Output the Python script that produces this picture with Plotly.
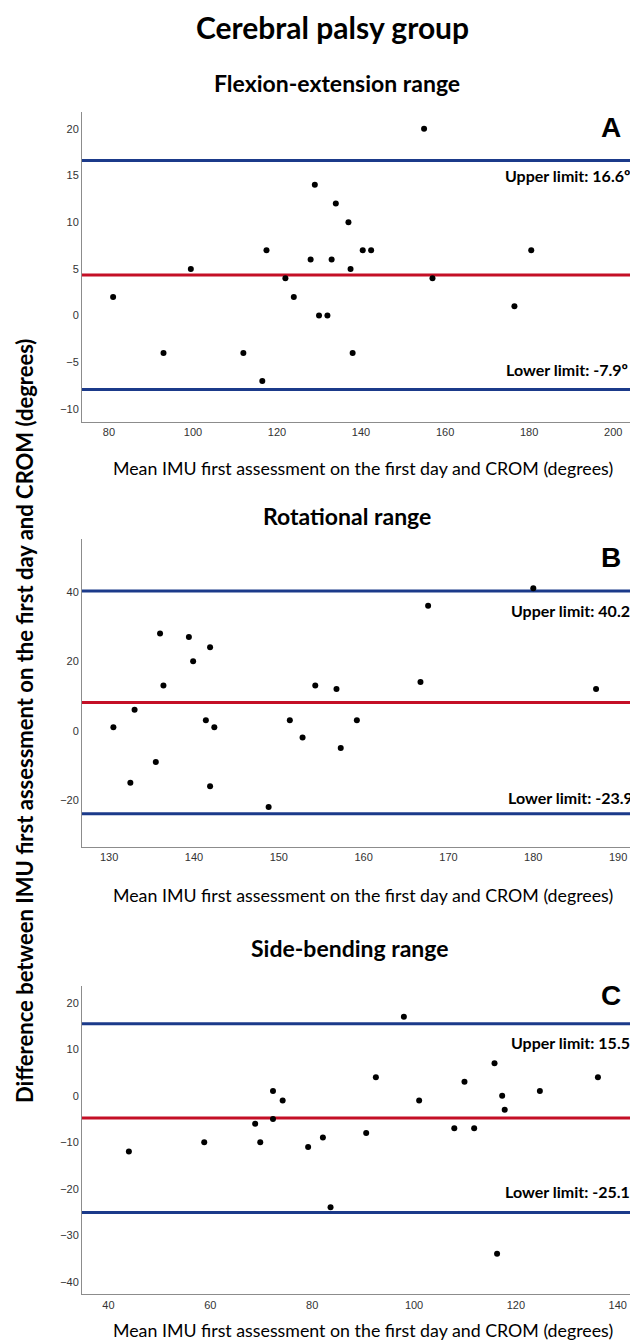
import plotly.graph_objects as go

W, H = 630, 1342

# ---------------- Data ----------------
# Panel A: Flexion-extension range
fe_mean = [81, 93, 99.5, 112, 116.5, 117.5, 122, 124, 128, 129, 130, 132, 133, 134,
           137, 137.5, 138, 140.4, 142.4, 155, 157, 176.5, 180.5]
fe_diff = [2, -4, 5, -4, -7, 7, 4, 2, 6, 14, 0, 0, 6, 12,
           10, 5, -4, 7, 7, 20, 4, 1, 7]
fe_upper, fe_bias, fe_lower = 16.6, 4.35, -7.9

# Panel B: Rotational range
rot_mean = [130.5, 132.5, 133, 135.5, 136, 136.4, 139.4, 139.9, 141.4, 141.9, 141.9, 142.4,
            148.8, 151.3, 152.8, 154.3, 156.8, 157.3, 159.2, 166.7, 167.6, 180, 187.4]
rot_diff = [1, -15, 6, -9, 28, 13, 27, 20, 3, 24, -16, 1,
            -22, 3, -2, 13, 12, -5, 3, 14, 36, 41, 12]
rot_upper, rot_bias, rot_lower = 40.2, 8.15, -23.9

# Panel C: Side-bending range
sb_mean = [44, 58.8, 68.8, 69.8, 72.3, 72.3, 74.2, 79.2, 82.1, 83.6, 90.6, 92.5,
           98, 101, 107.9, 109.9, 111.8, 115.8, 116.3, 117.3, 117.8, 124.7, 136.1]
sb_diff = [-12, -10, -6, -10, 1, -5, -1, -11, -9, -24, -8, 4,
           17, -1, -7, 3, -7, 7, -34, 0, -3, 1, 4]
sb_upper, sb_bias, sb_lower = 15.5, -4.8, -25.1

panel_titles = ["Flexion-extension range", "Rotational range", "Side-bending range"]
panel_letters = ["A", "B", "C"]
main_title = "Cerebral palsy group"
x_title = "Mean IMU first assessment on the first day and CROM (degrees)"
y_title = "Difference between IMU first assessment on the first day and CROM (degrees)"

# ---------------- Layout geometry (pixels) ----------------
plot_left = 82
panels = [
    dict(x=fe_mean, y=fe_diff, up=fe_upper, bias=fe_bias, lo=fe_lower,
         top=112, bottom=421.7, xr=[73.6, 204], yr=[-11.36, 21.8],
         xt=[80, 100, 120, 140, 160, 180, 200], yt=[-10, -5, 0, 5, 10, 15, 20],
         title_x=337, title_y=83, xtitle_y=468, letter_y=128,
         up_txt_y=175, lo_txt_y=369, up_x=503, lo_x=504),
    dict(x=rot_mean, y=rot_diff, up=rot_upper, bias=rot_bias, lo=rot_lower,
         top=539, bottom=847, xr=[126.8, 191.4], yr=[-33.5, 55.2],
         xt=[130, 140, 150, 160, 170, 180, 190], yt=[-20, 0, 20, 40],
         title_x=347, title_y=516, xtitle_y=895, letter_y=557,
         up_txt_y=610, lo_txt_y=797, up_x=509, lo_x=506),
    dict(x=sb_mean, y=sb_diff, up=sb_upper, bias=sb_bias, lo=sb_lower,
         top=986, bottom=1294.3, xr=[34.8, 142.4], yr=[-42.7, 23.6],
         xt=[40, 60, 80, 100, 120, 140], yt=[-40, -30, -20, -10, 0, 10, 20],
         title_x=350, title_y=948, xtitle_y=1330, letter_y=996,
         up_txt_y=1042, lo_txt_y=1191, up_x=509, lo_x=503),
]

def px(x):
    return x / W

def py(y):
    return 1 - y / H

TXT_FONT = "Lato, 'Open Sans', sans-serif"
TICK_FONT = "'Liberation Sans', Arial, sans-serif"
BLUE = "#1b3a8a"
RED = "#c40f26"

fig = go.Figure()
annotations = []
layout = dict(
    width=W, height=H,
    margin=dict(l=0, r=0, t=0, b=0),
    paper_bgcolor="white", plot_bgcolor="white",
    showlegend=False,
)

for i, p in enumerate(panels):
    n = i + 1
    xa = "x" if n == 1 else f"x{n}"
    ya = "y" if n == 1 else f"y{n}"
    xkey = "xaxis" if n == 1 else f"xaxis{n}"
    ykey = "yaxis" if n == 1 else f"yaxis{n}"

    # limit lines
    for val, col in [(p["up"], BLUE), (p["lo"], BLUE), (p["bias"], RED)]:
        fig.add_trace(go.Scatter(
            x=[p["xr"][0], p["xr"][1]], y=[val, val], mode="lines",
            line=dict(color=col, width=3), xaxis=xa, yaxis=ya, hoverinfo="skip"))
    # points
    fig.add_trace(go.Scatter(
        x=p["x"], y=p["y"], mode="markers",
        marker=dict(color="black", size=6), xaxis=xa, yaxis=ya))

    layout[xkey] = dict(
        domain=[px(plot_left), 1], range=p["xr"], anchor=ya,
        tickmode="array", tickvals=p["xt"], ticks="",
        showgrid=False, zeroline=False, showline=True, linecolor="#8c8c8c", linewidth=1,
        tickfont=dict(family=TICK_FONT, size=11, color="#333333"),
    )
    layout[ykey] = dict(
        domain=[py(p["bottom"]), py(p["top"])], range=p["yr"], anchor=xa,
        tickmode="array", tickvals=p["yt"], ticks="",
        showgrid=False, zeroline=False, showline=True, linecolor="#8c8c8c", linewidth=1,
        tickfont=dict(family=TICK_FONT, size=11, color="#333333"),
    )

    # panel title
    annotations.append(dict(
        text=f"<b>{panel_titles[i]}</b>", xref="paper", yref="paper",
        x=px(p["title_x"]), y=py(p["title_y"]), xanchor="center", yanchor="middle",
        showarrow=False, font=dict(family=TXT_FONT, size=23, color="black")))
    # x axis title
    annotations.append(dict(
        text=x_title, xref="paper", yref="paper",
        x=px(363), y=py(p["xtitle_y"]), xanchor="center", yanchor="middle",
        showarrow=False, font=dict(family=TXT_FONT, size=17.8, color="black")))
    # letter
    annotations.append(dict(
        text=f"<b>{panel_letters[i]}</b>", xref="paper", yref="paper",
        x=px(611), y=py(p["letter_y"]), xanchor="center", yanchor="middle",
        showarrow=False, font=dict(family=TICK_FONT, size=28, color="black")))
    # limit labels
    annotations.append(dict(
        text=f"<b>Upper limit: {p['up']:.1f}º</b>", xref="paper", yref="paper",
        x=px(p["up_x"]), y=py(p["up_txt_y"]), xanchor="left", yanchor="middle",
        showarrow=False, font=dict(family=TXT_FONT, size=16, color="black")))
    annotations.append(dict(
        text=f"<b>Lower limit: {p['lo']:.1f}º</b>", xref="paper", yref="paper",
        x=px(p["lo_x"]), y=py(p["lo_txt_y"]), xanchor="left", yanchor="middle",
        showarrow=False, font=dict(family=TXT_FONT, size=16, color="black")))

# main title
annotations.append(dict(
    text=f"<b>{main_title}</b>", xref="paper", yref="paper",
    x=px(332), y=py(27), xanchor="center", yanchor="middle",
    showarrow=False, font=dict(family=TXT_FONT, size=30, color="black")))
# shared y title
annotations.append(dict(
    text=f"<b>{y_title}</b>", xref="paper", yref="paper", textangle=-90,
    x=px(25), y=py(721), xanchor="center", yanchor="middle",
    showarrow=False, font=dict(family=TXT_FONT, size=22, color="black")))

layout["annotations"] = annotations
fig.update_layout(**layout)
fig.write_html(
    "out.html",
    config={"displayModeBar": False},
    post_script="document.body.style.margin='0';document.body.style.overflow='hidden';",
)
